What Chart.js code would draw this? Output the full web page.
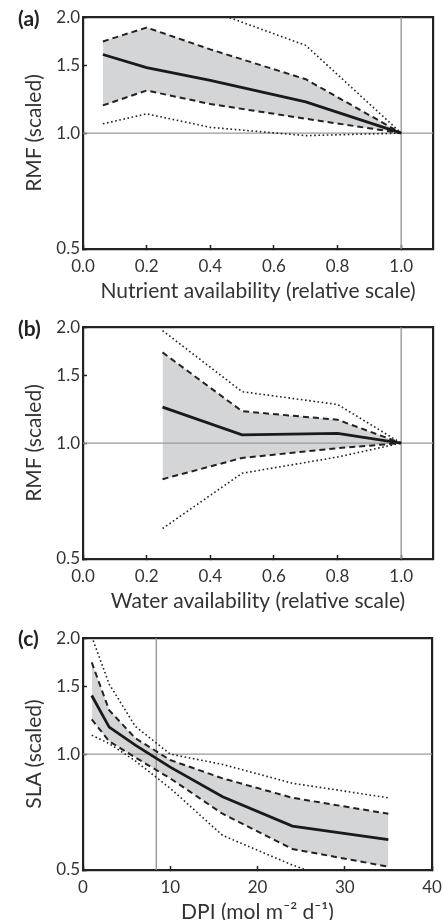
<!DOCTYPE html>
<html>
<head>
<meta charset="utf-8">
<script src="https://cdn.jsdelivr.net/npm/chart.js@4/dist/chart.umd.min.js"></script>
<style>
  body { margin: 0; background: #fff; width: 444px; height: 920px; position: relative; overflow: hidden; }
  .panel { position: absolute; left: 0; width: 444px; height: 304px; }
  .tag { position: absolute; left: 18px; font: bold 21px Lato, sans-serif; line-height: 24px; color: #222; }
  .ytitle { position: absolute; left: 32px; font: 21px Lato, sans-serif; color: #333; white-space: nowrap;
            transform: translate(-50%, -50%) rotate(-90deg); }
</style>
</head>
<body>
<div class="panel" style="top:0px"><canvas id="chartA" width="444" height="304"></canvas></div>
<div class="panel" style="top:310px"><canvas id="chartB" width="444" height="304"></canvas></div>
<div class="panel" style="top:621px"><canvas id="chartC" width="444" height="304"></canvas></div>
<div class="tag" style="top:6px">(a)</div>
<div class="tag" style="top:316px">(b)</div>
<div class="tag" style="top:626px">(c)</div>
<div class="ytitle" style="top:133px">RMF (scaled)</div>
<div class="ytitle" style="top:443px">RMF (scaled)</div>
<div class="ytitle" style="top:754px">SLA (scaled)</div>
<script>
// (a) nutrient availability
const nutX = [0.0625, 0.2, 0.4, 0.7, 1.0];
const nutMean = [1.60, 1.48, 1.37, 1.205, 1.00];
const nutHi = [1.73, 1.88, 1.65, 1.38, 1.00];
const nutLo = [1.18, 1.29, 1.19, 1.09, 1.00];
const nutHiOuter = [2.5, 2.6, 2.08, 1.69, 1.00];
const nutLoOuter = [1.057, 1.122, 1.035, 0.985, 1.00];

// (b) water availability
const watX = [0.25, 0.5, 0.8, 1.0];
const watMean = [1.24, 1.05, 1.06, 1.00];
const watHi = [1.72, 1.21, 1.15, 1.00];
const watLo = [0.806, 0.915, 0.97, 1.00];
const watHiOuter = [1.96, 1.36, 1.26, 1.00];
const watLoOuter = [0.60, 0.835, 0.92, 1.00];

// (c) DPI
const dpiX = [1, 3, 6, 10, 16, 24, 35];
const dpiMean = [1.42, 1.175, 1.055, 0.925, 0.775, 0.65, 0.60];
const dpiHi = [1.73, 1.30, 1.10, 0.965, 0.865, 0.77, 0.70];
const dpiLo = [1.23, 1.08, 0.98, 0.865, 0.70, 0.567, 0.51];
const dpiHiOuter = [2.02, 1.52, 1.18, 1.0, 0.94, 0.84, 0.77];
const dpiLoOuter = [1.12, 1.065, 0.96, 0.815, 0.615, 0.515, 0.42];

// axis ticks and reference lines
const yTicks = [0.5, 1.0, 1.5, 2.0];
const relTicks = [0, 0.2, 0.4, 0.6, 0.8, 1.0];
const dpiTicks = [0, 10, 20, 30, 40];
const refX = [1.0, 1.0, 8.4];
const refY = 1.0;

const ink = '#222';
const txt = '#333';

// grey reference lines at x = refX and y = 1
const refPlugin = {
  id: 'refLines',
  beforeDatasetsDraw(chart, args, opts) {
    const ctx = chart.ctx;
    const a = chart.chartArea;
    const px = chart.scales.x.getPixelForValue(opts.x);
    const py = chart.scales.y.getPixelForValue(refY);
    ctx.save();
    ctx.strokeStyle = '#999';
    ctx.lineWidth = 1.4;
    ctx.beginPath();
    ctx.moveTo(px, a.top); ctx.lineTo(px, a.bottom);
    ctx.moveTo(a.left, py); ctx.lineTo(a.right, py);
    ctx.stroke();
    ctx.restore();
  }
};

function makeChart(id, xs, mean, hi, lo, hiOut, loOut, cfg) {
  const pts = arr => arr.map((v, i) => ({x: xs[i], y: v}));
  const dash = {borderColor: ink, borderWidth: 2, borderDash: [6, 4]};
  const dot = {borderColor: ink, borderWidth: 1.6, borderDash: [1.6, 2.6]};
  const frame = {display: true, color: ink, width: 2.2};
  const inTicks = {display: true, drawOnChartArea: false, drawTicks: true, tickLength: -4, tickColor: ink, tickWidth: 1.5, color: ink};
  return new Chart(document.getElementById(id), {
    type: 'line',
    data: {
      datasets: [
        {data: pts(mean), borderColor: '#1a1a1a', borderWidth: 2.8},
        Object.assign({data: pts(hi), fill: '+1', backgroundColor: '#d4d5d7'}, dash),
        Object.assign({data: pts(lo)}, dash),
        Object.assign({data: pts(hiOut)}, dot),
        Object.assign({data: pts(loOut)}, dot)
      ]
    },
    options: {
      responsive: false,
      animation: false,
      layout: {padding: {top: 16, right: cfg.padRight, left: 0, bottom: 0}},
      elements: {point: {radius: 0}, line: {tension: 0}},
      scales: {
        x: {
          type: 'linear',
          position: 'bottom',
          min: cfg.min,
          max: cfg.max,
          afterBuildTicks: s => { s.ticks = cfg.ticks.map(v => ({value: v})); },
          afterFit: s => { s.height = 55; s.paddingLeft = 0; s.paddingRight = 0; },
          grid: inTicks,
          border: frame,
          ticks: {
            callback: v => cfg.fmt(v),
            font: {family: 'Lato', size: 17},
            color: txt,
            padding: 11,
            maxRotation: 0,
            autoSkip: false
          },
          title: {
            display: true,
            text: cfg.xTitle,
            font: {family: 'Lato', size: 21},
            color: txt,
            padding: {top: 0, bottom: 0}
          }
        },
        x2: {
          type: 'linear',
          position: 'top',
          min: cfg.min,
          max: cfg.max,
          afterFit: s => { s.height = 0; },
          grid: {display: false},
          ticks: {display: false},
          border: frame
        },
        y: {
          type: 'logarithmic',
          position: 'left',
          min: 0.5,
          max: 2.0,
          afterBuildTicks: s => { s.ticks = yTicks.map(v => ({value: v})); },
          afterFit: s => { s.width = 83; },
          grid: inTicks,
          border: frame,
          ticks: {
            callback: v => Number(v).toFixed(1),
            font: {family: 'Lato', size: 17},
            color: txt,
            padding: 7
          }
        },
        y2: {
          type: 'logarithmic',
          position: 'right',
          min: 0.5,
          max: 2.0,
          afterFit: s => { s.width = 0; },
          grid: {display: false},
          ticks: {display: false},
          border: frame
        }
      },
      plugins: {
        legend: {display: false},
        tooltip: {enabled: false},
        filler: {drawTime: 'beforeDatasetsDraw'},
        refLines: {x: cfg.refX}
      }
    },
    plugins: [refPlugin]
  });
}

makeChart('chartA', nutX, nutMean, nutHi, nutLo, nutHiOuter, nutLoOuter, {
  min: 0, max: 1.1, ticks: relTicks, fmt: v => v.toFixed(1), padRight: 11,
  xTitle: 'Nutrient availability (relative scale)', refX: refX[0]
});
makeChart('chartB', watX, watMean, watHi, watLo, watHiOuter, watLoOuter, {
  min: 0, max: 1.1, ticks: relTicks, fmt: v => v.toFixed(1), padRight: 11,
  xTitle: 'Water availability (relative scale)', refX: refX[1]
});
makeChart('chartC', dpiX, dpiMean, dpiHi, dpiLo, dpiHiOuter, dpiLoOuter, {
  min: 0, max: 40, ticks: dpiTicks, fmt: v => String(v), padRight: 12,
  xTitle: 'DPI (mol m\u207B\u00B2 d\u207B\u00B9)', refX: refX[2]
});
</script>
</body>
</html>
